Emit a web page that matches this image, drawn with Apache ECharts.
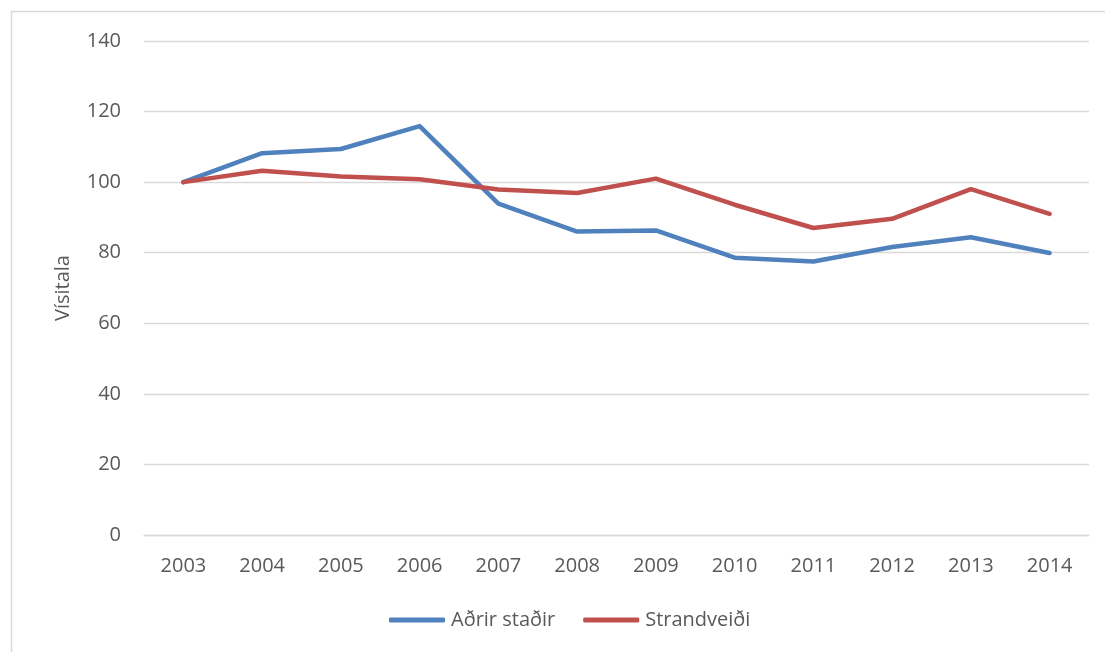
<!DOCTYPE html>
<html><head><meta charset="utf-8">
<script src="https://cdn.jsdelivr.net/npm/echarts@6/dist/echarts.min.js"></script>
<style>html,body{margin:0;padding:0;background:#fff}#c{width:1105px;height:652px}</style>
</head><body><div id="c"></div>
<script>
const years = ['2003','2004','2005','2006','2007','2008','2009','2010','2011','2012','2013','2014'];
const adrirStadir = [100, 108.2, 109.4, 115.9, 93.9, 86.0, 86.3, 78.6, 77.5, 81.6, 84.4, 79.9];
const strandveidi = [100, 103.2, 101.6, 100.8, 97.9, 96.9, 101.0, 93.6, 87.0, 89.6, 98.0, 91.0];
const seriesNames = ['Aðrir staðir', 'Strandveiði'];
const yTitle = 'Vísitala';

const font = "'Open Sans', 'Noto Sans', sans-serif";
const chart = echarts.init(document.getElementById('c'));
chart.setOption({
  animation: false,
  textStyle: {fontFamily: font},
  graphic: [{type: 'rect', shape: {x: 11.5, y: 11.5, width: 1100, height: 700}, style: {fill: 'none', stroke: '#d9d9d9', lineWidth: 1.5}}],
  grid: {left: 144, right: 16, top: 41, bottom: 117},
  legend: {
    bottom: 17, left: 384, itemWidth: 56, itemHeight: 5, itemGap: 28,
    icon: 'roundRect',
    textStyle: {fontSize: 20, color: '#595959', fontFamily: font, padding: [0, 0, 0, 1]},
    data: seriesNames
  },
  xAxis: {
    type: 'category', data: years, boundaryGap: true,
    axisLine: {lineStyle: {color: '#d9d9d9', width: 1.3}},
    axisTick: {show: false},
    axisLabel: {fontSize: 20, color: '#595959', margin: 21, fontFamily: font}
  },
  yAxis: {
    type: 'value', min: 0, max: 140, interval: 20,
    name: yTitle, nameLocation: 'middle', nameGap: 71, nameRotate: 90,
    nameTextStyle: {fontSize: 20, color: '#595959', fontFamily: font},
    axisLine: {show: false}, axisTick: {show: false},
    axisLabel: {fontSize: 20, color: '#595959', margin: 23, fontFamily: font},
    splitLine: {lineStyle: {color: '#d9d9d9', width: 1.3}}
  },
  series: [
    {name: seriesNames[0], type: 'line', data: adrirStadir, symbol: 'none', color: '#4F81BD', lineStyle: {width: 4.5, cap: 'round', join: 'round'}},
    {name: seriesNames[1], type: 'line', data: strandveidi, symbol: 'none', color: '#C0504D', lineStyle: {width: 4.5, cap: 'round', join: 'round'}}
  ]
});
</script></body></html>
